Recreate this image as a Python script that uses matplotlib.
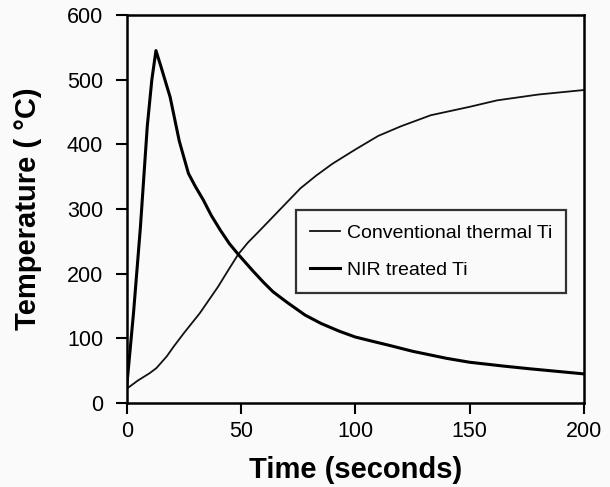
import matplotlib
matplotlib.use("Agg")
import matplotlib.pyplot as plt

# Data
conv_time = [0, 5, 10, 13, 17.5, 20.5, 25, 32, 40, 44, 48.8, 53, 58, 64, 70, 76, 83, 90, 100, 110, 120, 133, 150, 162, 180, 200]
conv_temp = [22, 35, 46, 54, 72, 87, 108, 139, 180, 203, 230, 248, 266, 288, 310, 332, 352, 370, 392, 413, 428, 445, 458, 468, 477, 484]

nir_time = [0, 3, 6, 9, 11, 12.8, 15, 19, 23, 27, 30, 33.5, 37, 41, 45, 49, 55, 60, 64, 70, 78, 85, 93, 100, 108, 115, 125, 140, 150, 165, 176, 188, 200]
nir_temp = [25, 140, 272, 428, 500, 545, 520, 473, 405, 355, 335, 314, 290, 267, 246, 229, 205, 186, 172, 156, 136, 123, 111, 102, 95, 89, 80, 69, 63, 57, 53, 49, 45]

x_ticks = [0, 50, 100, 150, 200]
y_ticks = [0, 100, 200, 300, 400, 500, 600]

plt.rcParams['font.family'] = ['Liberation Sans', 'DejaVu Sans']

fig = plt.figure(figsize=(6.1, 4.87), dpi=100)
fig.patch.set_facecolor('#fafafa')
ax = fig.add_axes([0.2077, 0.1725, 0.7496, 0.7967])
ax.set_facecolor('#fafafa')

ax.plot(conv_time, conv_temp, color='#111111', lw=1.3, label='Conventional thermal Ti')
ax.plot(nir_time, nir_temp, color='#000000', lw=2.2, label='NIR treated Ti')

ax.set_xlim(0, 200)
ax.set_ylim(0, 600)
ax.set_xticks(x_ticks)
ax.set_yticks(y_ticks)
ax.tick_params(axis='both', direction='out', length=8, width=1.5, labelsize=15.5)
ax.tick_params(axis='y', pad=9)
ax.tick_params(axis='x', pad=5)
for s in ax.spines.values():
    s.set_linewidth(1.8)

ax.set_xlabel('Time (seconds)', fontsize=21, fontweight='bold', labelpad=10)
ax.set_ylabel('Temperature ( °C)', fontsize=21, fontweight='bold', labelpad=18)

leg = ax.legend(loc='upper left', bbox_to_anchor=(0.370, 0.497), borderaxespad=0,
                fontsize=14, frameon=True, fancybox=False, edgecolor='black',
                handlelength=1.55, handletextpad=0.36, borderpad=0.72,
                labelspacing=1.0)
leg.get_frame().set_linewidth(1.6)
leg.get_frame().set_facecolor('#fafafa')

fig.savefig('out.png', dpi=100, facecolor=fig.get_facecolor())
